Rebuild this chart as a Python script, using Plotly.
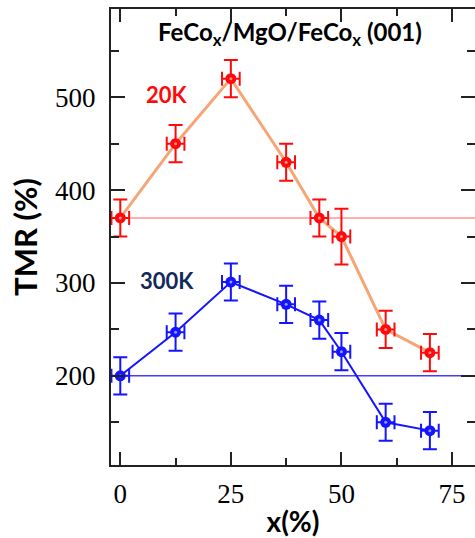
import plotly.graph_objects as go

# Co content x (%) of the FeCo_x electrodes
x_pct = [0, 12.5, 25, 37.5, 45, 50, 60, 70]

# TMR (%) at 20 K and 300 K
tmr_20k = [370, 450, 520, 430, 370, 350, 250, 225]
tmr_20k_err = [20, 20, 20, 20, 20, 30, 20, 20]
tmr_300k = [200, 247, 301, 277, 260, 226, 150, 141]
tmr_300k_err = [20, 20, 20, 20, 20, 20, 20, 20]
x_err = [2, 2, 2, 2, 2, 2, 2, 2]

# Reference levels (pure Fe electrodes)
ref_20k = 370
ref_300k = 200

y_ticks = [200, 300, 400, 500]
x_ticks = [0, 25, 50, 75]

RED = "#ff0a0a"
ORANGE = "#f6a676"
BLUE = "#1414ff"
NAVY = "#13295c"
SANS = "Lato"
SERIF = "Liberation Serif"

fig = go.Figure()

# connecting lines
fig.add_trace(go.Scatter(x=x_pct, y=tmr_20k, mode="lines",
                         line=dict(color=ORANGE, width=3), hoverinfo="skip"))
fig.add_trace(go.Scatter(x=x_pct, y=tmr_300k, mode="lines",
                         line=dict(color=BLUE, width=2), hoverinfo="skip"))

# points with error bars
for ys, yerr, col in [(tmr_20k, tmr_20k_err, RED), (tmr_300k, tmr_300k_err, BLUE)]:
    fig.add_trace(go.Scatter(
        x=x_pct, y=ys, mode="markers",
        marker=dict(color=col, size=11, line=dict(width=0)),
        error_y=dict(type="data", array=yerr, color=col, thickness=2, width=7),
        error_x=dict(type="data", array=x_err, color=col, thickness=2, width=7),
    ))
    # small highlight on each sphere-like marker
    fig.add_trace(go.Scatter(
        x=x_pct, y=ys, mode="markers",
        marker=dict(color="rgba(255,255,255,0.55)", size=3), hoverinfo="skip"))

fig.add_shape(type="line", xref="paper", x0=0, x1=1, yref="y", y0=ref_20k, y1=ref_20k,
              line=dict(color="rgba(255,90,90,0.65)", width=1.5), layer="below")
fig.add_shape(type="line", xref="paper", x0=0, x1=1, yref="y", y0=ref_300k, y1=ref_300k,
              line=dict(color="rgba(30,30,255,0.85)", width=1.5), layer="below")

fig.add_annotation(text="FeCo<sub>x</sub>/MgO/FeCo<sub>x</sub> (001)", xref="paper", yref="paper",
                   x=0.492, y=0.946, xanchor="center", yanchor="middle", showarrow=False,
                   font=dict(family=SANS, size=24, color="black", weight="bold"))
fig.add_annotation(text="20K", xref="paper", yref="paper", x=0.153, y=0.812,
                   xanchor="center", yanchor="middle", showarrow=False,
                   font=dict(family=SANS, size=22, color=RED, weight="bold"))
fig.add_annotation(text="300K", xref="paper", yref="paper", x=0.153, y=0.405,
                   xanchor="center", yanchor="middle", showarrow=False,
                   font=dict(family=SANS, size=22, color=NAVY, weight="bold"))

fig.update_layout(
    width=480, height=538, autosize=False,
    margin=dict(l=111, r=3, t=9, b=71),
    paper_bgcolor="white", plot_bgcolor="white",
    showlegend=False,
    xaxis=dict(
        range=[-2.1, 80.2], tickvals=x_ticks, ticktext=[str(v) for v in x_ticks],
        ticks="inside", ticklen=13, tickwidth=2, tickcolor="#222",
        showline=True, linewidth=2, linecolor="#222", mirror="ticks",
        showgrid=False, zeroline=False,
        tickfont=dict(family=SERIF, size=27, color="black"),
        ticklabelstandoff=4,
        minor=dict(tickvals=[12.5, 37.5, 62.5], ticks="inside", ticklen=7, tickwidth=2,
                   tickcolor="#222", showgrid=False),
        title=dict(text="x(%)", standoff=6,
                   font=dict(family=SANS, size=28, color="black", weight="bold")),
    ),
    yaxis=dict(
        range=[104, 595], tickvals=y_ticks, ticktext=[str(v) for v in y_ticks],
        ticks="inside", ticklen=14, tickwidth=2, tickcolor="#222",
        showline=True, linewidth=2, linecolor="#222", mirror="ticks",
        showgrid=False, zeroline=False,
        tickfont=dict(family=SERIF, size=27, color="black"),
        ticklabelstandoff=8,
        minor=dict(tickvals=[150, 250, 350, 450, 550], ticks="inside", ticklen=8, tickwidth=2,
                   tickcolor="#222", showgrid=False),
        title=dict(text="TMR (%)", standoff=8,
                   font=dict(family=SANS, size=31, color="black", weight="bold")),
    ),
)

fig.write_html("out.html")
